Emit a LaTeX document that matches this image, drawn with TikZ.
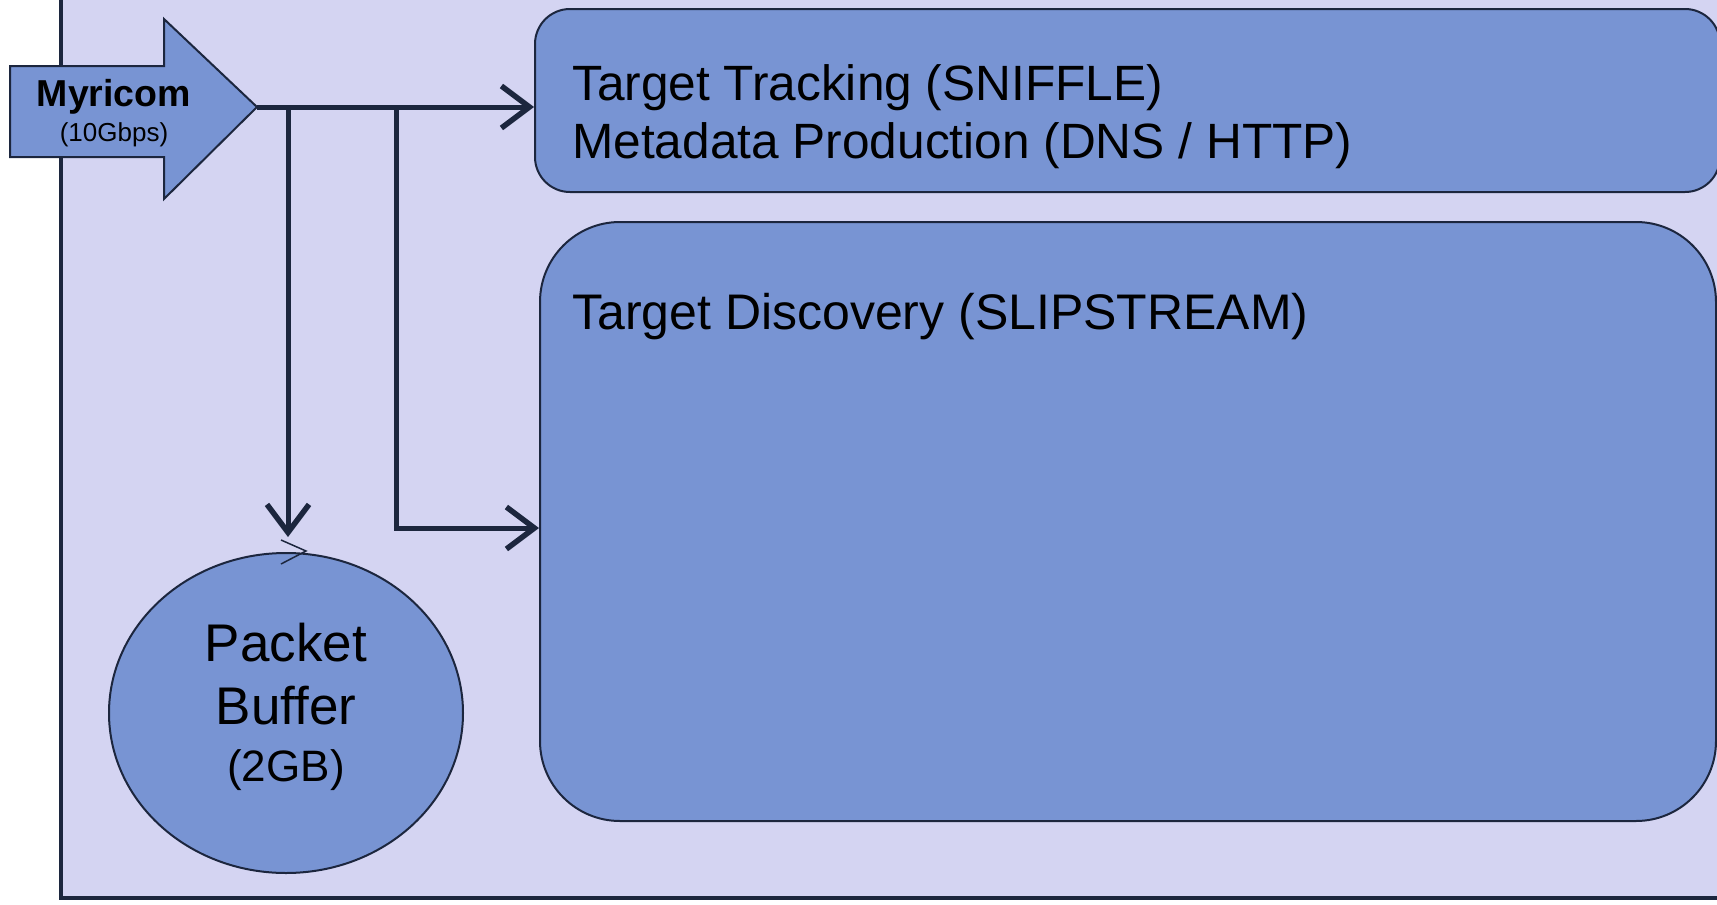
\documentclass[tikz,border=0pt]{standalone}
\usepackage{fontspec}
\setmainfont{Liberation Sans}
\usetikzlibrary{positioning}
\usetikzlibrary{calc}
\usetikzlibrary{arrows.meta}
\usetikzlibrary{shapes.geometric}
\definecolor{lavender}{RGB}{212,212,242}
\definecolor{boxblue}{RGB}{120,148,211}
\definecolor{navy}{RGB}{28,38,62}

\tikzset{
  stage/.style={draw=navy, line width=2pt, fill=boxblue, inner sep=0pt},
  flow/.style={draw=navy, line width=5pt, -{Straight Barb[length=28pt,width=42pt,line width=5.5pt]}},
  label/.style={inner sep=0pt, text=black}
}

\begin{document}
\begin{tikzpicture}[x=1pt,y=-1pt]
    \useasboundingbox (0,0) rectangle (1717,905);

    % Frame
    \draw[navy, line width=3.5pt, fill=lavender] (61,-20) rectangle (1760,898);

    % Input arrow
    \draw[navy, line width=2pt, fill=boxblue] (10,66) -- (164,66) -- (164,19) -- (257,107)
        -- (164,199) -- (164,157) -- (10,157) -- cycle;
    \node[label, align=center, font=\fontsize{37.5}{35}\selectfont] (myricom) at (114,113)
        {\textbf{Myricom}\\{\fontsize{26}{26}\selectfont (10Gbps)}};

    % Processing stages
    \node[stage, rounded corners=35pt, minimum width=1185pt, minimum height=183pt] (track) at (1127.5,100.5) {};
    \node[stage, rounded corners=80pt, minimum width=1176pt, minimum height=599pt] (discovery) at (1128,521.5) {};
    \node[stage, ellipse, minimum width=354pt, minimum height=320pt] (buffer) at (286,713) {};
    \node[label, align=center, font=\fontsize{53}{63}\selectfont] (buftext) at ($(buffer.center)+(0,-6)$)
        {Packet\\Buffer\\[-5.5pt]{\fontsize{44}{44}\selectfont (2GB)}};

    \node[label, anchor=north west, align=left, font=\fontsize{49.6}{58}\selectfont] (tracktext) at (572,64)
        {Target Tracking (SNIFFLE)\\Metadata Production (DNS / HTTP)};
    \node[label, anchor=base west, font=\fontsize{50}{58}\selectfont] (disctext) at (572,329.5)
        {Target Discovery (SLIPSTREAM)};

    % Connectors
    \coordinate (tip) at (257,107);
    \coordinate (split1) at (288,107);
    \coordinate (split2) at (396,107);
    \coordinate (turn) at (396,528);
    \draw[flow] (tip) -- (tip -| track.west);
    \draw[flow, shorten >=15pt] (split1) -- (split1 |- buffer.north);
    \draw[flow] (split2) -- (turn) -- (turn -| discovery.west);

    % small mark on the buffer
    \draw[navy, line width=1.5pt] ($(buffer.north)+(-5,-12)$) -- ($(buffer.north)+(20,-1)$) -- ($(buffer.north)+(-5,12)$);
\end{tikzpicture}
\end{document}
